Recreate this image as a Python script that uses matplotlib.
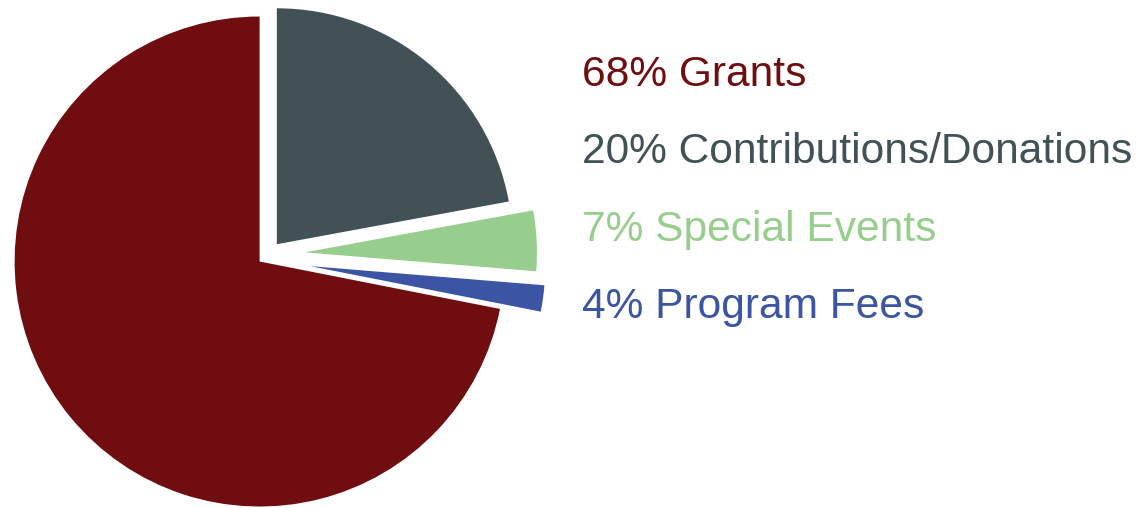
import matplotlib
matplotlib.use("Agg")
import matplotlib.pyplot as plt

# Slice shares as drawn in the picture (labels carry the published percents)
categories = ["Grants", "Contributions/Donations", "Special Events", "Program Fees"]
label_pcts = [68, 20, 7, 4]
shares = [71.9, 22.1, 4.2, 1.8]

colors = ["#700d10", "#425156", "#98ce8d", "#3b54a3"]
explode = [0.047, 0.053, 0.149, 0.171]
radii = [1.0, 0.963, 0.947, 0.96]
drop = [0.0, 0.0, 0.0, 0.025]   # extra downward shift of a sliced wedge

W, H = 1140, 508
fig = plt.figure(figsize=(W / 100, H / 100), dpi=100)
plt.rcParams["font.family"] = ["Liberation Sans", "DejaVu Sans"]

# pie area: left part of the figure, 245 px per data unit
pie_w = 600
R_px = 245.0
cx, cy = 268.5, H - 254.2
ax = fig.add_axes([0, 0, pie_w / W, 1])

start = 90 + 360.0 * shares[0] / sum(shares)
wedges, _ = ax.pie(shares, explode=explode, colors=colors, startangle=start,
                   counterclock=False, radius=1.0, wedgeprops=dict(linewidth=0))
for w, r, d in zip(wedges, radii, drop):
    w.set_radius(r)
    x, y = w.center
    w.set_center((x, y - d))

ax.set_aspect("auto")
ax.set_xlim(-cx / R_px, (pie_w - cx) / R_px)
ax.set_ylim(-cy / R_px, (H - cy) / R_px)
ax.axis("off")

# coloured legend text on the right
x0 = 582.3 / W
base0 = H - 86.0
step = 77.4
for i, (pct, name, col) in enumerate(zip(label_pcts, categories, colors)):
    fig.text(x0, (base0 - i * step) / H, f"{pct}% {name}", color=col,
             fontsize=30.6, ha="left", va="baseline")

fig.savefig("out.png", dpi=100)
